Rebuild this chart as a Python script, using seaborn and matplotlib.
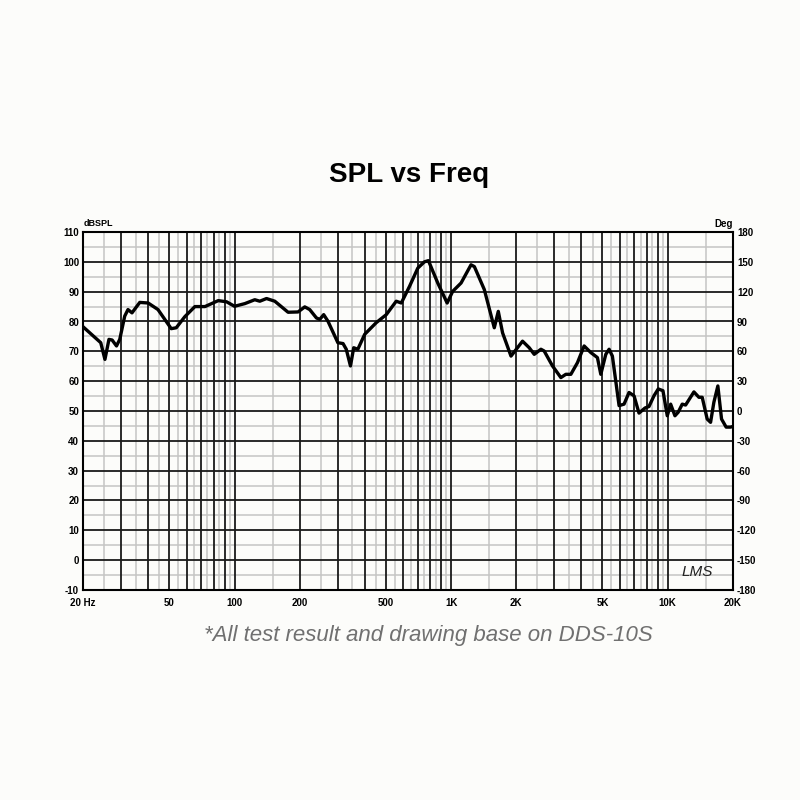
import matplotlib
matplotlib.use("Agg")
import matplotlib.pyplot as plt
import seaborn as sns

# frequency response
freq_hz = [20, 20.2, 24.1, 25.2, 26.3, 27.2, 28.5, 29.5, 31.1, 32.2, 33.6, 36.5,
           39.9, 44.3, 51, 53.8, 58.9, 65.6, 73, 84.1, 91.9, 100, 111.6, 124,
           130.8, 140.5, 153.4, 176.7, 196.4, 211, 222.4, 238.8, 247.4, 258, 270,
           300, 317, 328, 343, 355, 371, 399, 451, 502, 558, 589, 643, 702, 753,
           786, 868, 959, 1017, 1112, 1236, 1281, 1424, 1583, 1652, 1729, 1891,
           2138, 2296, 2421, 2600, 2692, 2940, 3214, 3388, 3574, 3834, 4116, 4418,
           4740, 4914, 5182, 5368, 5558, 5968, 6292, 6634, 6996, 7376, 7860, 8202,
           8650, 9054, 9516, 9962, 10328, 10810, 11194, 11682, 12108, 13226, 13946,
           14444, 15232, 15790, 16352, 17062, 17744, 18632, 19518, 20000]
spl_db = [78.2, 77.9, 72.9, 67.3, 74.0, 73.8, 71.8, 74.0, 81.8, 84.0, 82.9, 86.4,
          86.2, 84.0, 77.6, 77.9, 81.6, 85.0, 85.0, 87.0, 86.6, 85.1, 86.0, 87.3,
          86.8, 87.7, 86.8, 83.1, 83.2, 84.9, 84.0, 81.2, 80.7, 82.3, 80.1,
          72.9, 72.6, 70.7, 65.1, 71.2, 70.7, 75.7, 79.6, 82.3, 86.8, 86.2, 91.8, 97.9, 100.0,
          100.4, 92.9, 86.2, 90.1, 92.9, 99.0, 98.4, 90.7, 77.9, 83.4, 76.2, 68.4,
          73.4, 71.2, 69.0, 70.7, 70.1, 65.1, 61.2, 62.3, 62.3, 66.2, 71.8, 69.6,
          67.9, 62.3, 69.0, 70.7, 68.4, 51.8, 52.3, 56.2, 55.1, 49.3, 51.0, 51.5,
          55.1, 57.4, 56.8, 48.4, 52.3, 48.4, 49.6, 52.3, 52.0, 56.4, 54.6,
          54.6, 47.3, 46.2, 52.9, 58.4, 47.3, 44.6, 44.6, 44.8]

spl_ticks = list(range(-10, 111, 10))
deg_ticks = list(range(-180, 181, 30))
freq_labels = {20: "20 Hz", 50: "50", 100: "100", 200: "200", 500: "500",
               1000: "1K", 2000: "2K", 5000: "5K", 10000: "10K", 20000: "20K"}

sns.set_style("white")
plt.rcParams["font.family"] = ["Liberation Sans", "DejaVu Sans"]
plt.rcParams["text.color"] = "black"
plt.rcParams["xtick.color"] = "black"
plt.rcParams["ytick.color"] = "black"

bg = "#fcfcfa"
fig = plt.figure(figsize=(8, 8), dpi=100, facecolor=bg)
ax = fig.add_axes([0.104, 0.2625, 0.812, 0.4475])
ax.set_facecolor(bg)

# black lines at 1..9 x decade, grey lines half way between
major_x = []
minor_x = []
for dec in [10, 100, 1000, 10000]:
    for k in range(1, 10):
        if 20 <= k * dec <= 20000:
            major_x.append(k * dec)
        if 20 <= (k + 0.5) * dec <= 20000:
            minor_x.append((k + 0.5) * dec)

for x in minor_x:
    ax.axvline(x, color="#c4c4c4", lw=1.1, zorder=1)
for y in range(-5, 110, 10):
    ax.axhline(y, color="#c4c4c4", lw=1.1, zorder=1)
for x in major_x:
    ax.axvline(x, color="#1a1a1a", lw=1.3, zorder=2)
for y in spl_ticks:
    ax.axhline(y, color="#1a1a1a", lw=1.3, zorder=2)

sns.lineplot(x=freq_hz, y=spl_db, ax=ax, color="black", lw=2.4, zorder=3)

ax.set_xscale("log")
ax.set_xlim(20, 20000)
ax.set_ylim(-10, 110)
ax.set_xticks(list(freq_labels.keys()))
ax.set_xticklabels(list(freq_labels.values()), fontsize=7, fontweight="bold")
ax.xaxis.set_minor_locator(matplotlib.ticker.NullLocator())
ax.set_yticks(spl_ticks)
ax.set_yticklabels([str(v) for v in spl_ticks], fontsize=7, fontweight="bold")
ax.tick_params(axis="y", length=0, pad=3)
ax.tick_params(axis="x", length=0, pad=6)
ax.set_xlabel("")
ax.set_ylabel("")
for s in ax.spines.values():
    s.set_color("black")
    s.set_linewidth(1.5)

ax2 = ax.twinx()
ax2.set_ylim(-180, 180)
ax2.set_yticks(deg_ticks)
ax2.set_yticklabels([str(v) for v in deg_ticks], fontsize=7, fontweight="bold")
ax2.tick_params(length=0, pad=3)
for s in ax2.spines.values():
    s.set_visible(False)

ax.text(0.0, 1.012, "dBSPL", transform=ax.transAxes, fontsize=6.5,
        fontweight="bold", ha="left", va="bottom")
ax.text(1.0, 1.008, "Deg", transform=ax.transAxes, fontsize=7,
        fontweight="bold", ha="right", va="bottom")
ax.text(0.97, 0.03, "LMS", transform=ax.transAxes, fontsize=11,
        fontstyle="italic", ha="right", va="bottom", color="#222222")

fig.text(0.511, 0.781, "SPL vs Freq", fontsize=20, fontweight="bold",
         color="black", ha="center", va="center")
fig.text(0.535, 0.205, "*All test result and drawing base on DDS-10S",
         fontsize=16, fontstyle="italic", color="#707070", ha="center", va="center")

fig.savefig("out.png", dpi=100, facecolor=bg)
